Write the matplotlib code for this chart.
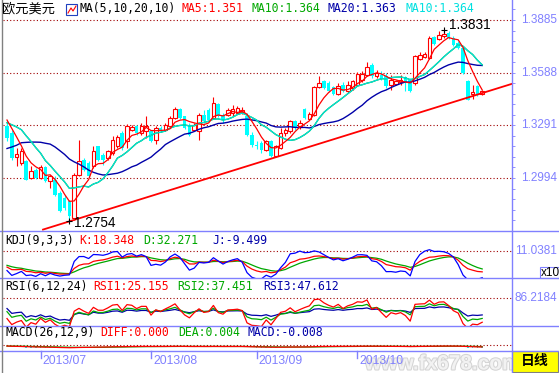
import matplotlib
matplotlib.use("Agg")
import matplotlib.pyplot as plt
import matplotlib.patheffects as pe
from matplotlib.patches import Rectangle
from matplotlib.lines import Line2D
from matplotlib.transforms import blended_transform_factory as blend
import numpy as np
import pandas as pd

W, H = 559, 373

# EUR/USD daily bars, 2013-06-20 .. 2013-11-06
opens = [1.3289, 1.3248, 1.3110, 1.3079, 1.3088, 1.2994, 1.3041, 1.2994, 1.3056, 1.2975,
         1.2985, 1.2909, 1.2881, 1.2862, 1.2768, 1.3013, 1.3097, 1.3079, 1.3060, 1.3173,
         1.3126, 1.3107, 1.3135, 1.3173, 1.3248, 1.3201, 1.3267, 1.3285, 1.3248, 1.3257,
         1.3257, 1.3210, 1.3276, 1.3267, 1.3285, 1.3332, 1.3383, 1.3342, 1.3295, 1.3267,
         1.3257, 1.3351, 1.3379, 1.3332, 1.3413, 1.3351, 1.3351, 1.3361, 1.3361, 1.3364,
         1.3346, 1.3238, 1.3182, 1.3191, 1.3154, 1.3201, 1.3116, 1.3163, 1.3248, 1.3257,
         1.3314, 1.3285, 1.3383, 1.3327, 1.3351, 1.3507, 1.3539, 1.3530, 1.3505, 1.3470,
         1.3520, 1.3483, 1.3502, 1.3520, 1.3545, 1.3577, 1.3633, 1.3567, 1.3577, 1.3567,
         1.3520, 1.3526, 1.3534, 1.3563, 1.3549, 1.3530, 1.3665, 1.3676, 1.3671, 1.3789,
         1.3778, 1.3793, 1.3812, 1.3784, 1.3755, 1.3727, 1.3540, 1.3470, 1.3511, 1.3470]
highs = [1.3323, 1.3267, 1.3163, 1.3163, 1.3097, 1.3060, 1.3050, 1.3069, 1.3064, 1.3013,
         1.3003, 1.2919, 1.2900, 1.2872, 1.3022, 1.3210, 1.3107, 1.3088, 1.3173, 1.3177,
         1.3135, 1.3154, 1.3229, 1.3238, 1.3257, 1.3300, 1.3295, 1.3295, 1.3304, 1.3342,
         1.3267, 1.3285, 1.3289, 1.3304, 1.3342, 1.3394, 1.3389, 1.3346, 1.3304, 1.3304,
         1.3361, 1.3379, 1.3389, 1.3451, 1.3417, 1.3361, 1.3389, 1.3408, 1.3398, 1.3394,
         1.3361, 1.3251, 1.3205, 1.3200, 1.3210, 1.3210, 1.3182, 1.3276, 1.3276, 1.3323,
         1.3323, 1.3323, 1.3389, 1.3365, 1.3515, 1.3571, 1.3549, 1.3539, 1.3511, 1.3530,
         1.3534, 1.3539, 1.3549, 1.3590, 1.3596, 1.3648, 1.3642, 1.3605, 1.3596, 1.3586,
         1.3577, 1.3549, 1.3577, 1.3571, 1.3558, 1.3690, 1.3703, 1.3703, 1.3793, 1.3797,
         1.3821, 1.3831, 1.3821, 1.3793, 1.3765, 1.3737, 1.3549, 1.3520, 1.3517, 1.3492]
lows = [1.3201, 1.3097, 1.3060, 1.3069, 1.2981, 1.2988, 1.2988, 1.2988, 1.2970, 1.2938,
        1.2891, 1.2800, 1.2816, 1.2754, 1.2759, 1.3003, 1.3032, 1.2999, 1.3050, 1.3088,
        1.3069, 1.3097, 1.3126, 1.3163, 1.3154, 1.3163, 1.3257, 1.3238, 1.3238, 1.3220,
        1.3195, 1.3188, 1.3251, 1.3257, 1.3276, 1.3327, 1.3327, 1.3270, 1.3232, 1.3257,
        1.3210, 1.3304, 1.3314, 1.3327, 1.3336, 1.3304, 1.3346, 1.3342, 1.3355, 1.3357,
        1.3232, 1.3170, 1.3160, 1.3135, 1.3145, 1.3112, 1.3110, 1.3158, 1.3232, 1.3248,
        1.3267, 1.3270, 1.3327, 1.3320, 1.3346, 1.3502, 1.3496, 1.3477, 1.3464, 1.3464,
        1.3477, 1.3473, 1.3492, 1.3515, 1.3534, 1.3571, 1.3558, 1.3558, 1.3545, 1.3502,
        1.3492, 1.3520, 1.3520, 1.3483, 1.3477, 1.3520, 1.3658, 1.3671, 1.3665, 1.3746,
        1.3770, 1.3784, 1.3778, 1.3737, 1.3721, 1.3582, 1.3432, 1.3440, 1.3459, 1.3464]
closes = [1.3220, 1.3107, 1.3130, 1.3144, 1.2985, 1.3032, 1.2994, 1.3056, 1.2975, 1.3003,
          1.2900, 1.2806, 1.2825, 1.2778, 1.3013, 1.3088, 1.3041, 1.3003, 1.3144, 1.3097,
          1.3097, 1.3144, 1.3210, 1.3225, 1.3163, 1.3289, 1.3282, 1.3248, 1.3289, 1.3289,
          1.3201, 1.3276, 1.3257, 1.3295, 1.3332, 1.3383, 1.3332, 1.3276, 1.3238, 1.3295,
          1.3351, 1.3314, 1.3323, 1.3417, 1.3342, 1.3323, 1.3379, 1.3383, 1.3389, 1.3379,
          1.3238, 1.3182, 1.3173, 1.3154, 1.3201, 1.3116, 1.3173, 1.3248, 1.3263, 1.3314,
          1.3276, 1.3304, 1.3332, 1.3357, 1.3507, 1.3530, 1.3502, 1.3483, 1.3470, 1.3511,
          1.3483, 1.3518, 1.3539, 1.3582, 1.3580, 1.3620, 1.3567, 1.3586, 1.3552, 1.3511,
          1.3549, 1.3539, 1.3549, 1.3530, 1.3483, 1.3680, 1.3689, 1.3693, 1.3784, 1.3752,
          1.3802, 1.3808, 1.3784, 1.3746, 1.3727, 1.3586, 1.3436, 1.3480, 1.3464, 1.3487]
# closes before the visible window, only used to warm up the averages
prior_close = [1.2935, 1.2935, 1.2860, 1.2945, 1.3000, 1.2995, 1.3075, 1.3085, 1.3100, 1.3220,
               1.3220, 1.3255, 1.3300, 1.3330, 1.3345, 1.3345, 1.3370, 1.3395, 1.3275]

month_labels = ["2013/07", "2013/08", "2013/09", "2013/10"]
month_start = [7, 30, 52, 73]
price_levels = [1.3885, 1.3588, 1.3291, 1.2994]
kdj_top = 11.0381
rsi_top = 86.2184
high_mark = (91, 1.3831)
low_mark = (13, 1.2754)
trend_x = [7.5, 105.2]
trend_y = [1.2703, 1.3525]

AXIS = '#8080ff'
LABEL = '#8080ff'
GRID = '#a00000'
RED = '#ff0000'
CYAN = '#00ffff'
GREEN = '#00a800'
NAVY = '#0000a8'


def sma_cn(x, n, start=None):
    out = np.empty(len(x))
    prev = x[0] if start is None else start
    for i, v in enumerate(x):
        prev = (v + (n - 1) * prev) / n
        out[i] = prev
    return out


o, h, l, c = map(np.array, (opens, highs, lows, closes))
x = np.arange(len(c))
n0 = len(prior_close)
call = pd.Series(prior_close + closes)
ma5 = call.rolling(5).mean().values[n0:]
ma10 = call.rolling(10).mean().values[n0:]
ma20 = call.rolling(20).mean().values[n0:]

hh = pd.Series(h).rolling(9, min_periods=1).max().values
ll = pd.Series(l).rolling(9, min_periods=1).min().values
rsv = (c - ll) / (hh - ll) * 100
k_line = sma_cn(rsv, 3, 50)
d_line = sma_cn(k_line, 3, 50)
j_line = 3 * k_line - 2 * d_line

chg = call.diff().fillna(0).values
rsis = []
for n in (6, 12, 24):
    up_s = sma_cn(np.maximum(chg, 0), n)
    ab_s = sma_cn(np.abs(chg), n)
    with np.errstate(invalid='ignore', divide='ignore'):
        rsis.append((up_s / ab_s * 100)[n0:])

dif = call.ewm(span=12, adjust=False).mean() - call.ewm(span=26, adjust=False).mean()
dea = dif.ewm(span=9, adjust=False).mean()
dif, dea = dif.values[n0:], dea.values[n0:]
macd = 2 * (dif - dea)

fig = plt.figure(figsize=(W / 100, H / 100), dpi=100)
fig.patch.set_facecolor('white')


def px_axes(x0, y0, x1, y1):
    a = fig.add_axes([x0 / W, 1 - y1 / H, (x1 - x0) / W, (y1 - y0) / H])
    a.set_xlim((3 - 7) / 4.8, (512 - 7) / 4.8)
    for s in a.spines.values():
        s.set_visible(False)
    a.set_xticks([])
    a.set_yticks([])
    a.patch.set_alpha(0)
    return a


def fig_line(xs, ys, color=AXIS, lw=1.0):
    fig.add_artist(Line2D([v / W for v in xs], [1 - v / H for v in ys], color=color, lw=lw))


def fig_text(px, py, s, color='black', size=8.3, family=None, **kw):
    fig.text(px / W, 1 - py / H, s, color=color, fontsize=size, va='center',
             family=family or ['DejaVu Sans Mono', 'Noto Sans CJK SC'], **kw)


def right_label(ax, y, s):
    ax.text(557 / W, y, s, transform=blend(fig.transFigure, ax.transData), ha='right',
            va='center', color=LABEL, fontsize=8.5, family='Liberation Sans', clip_on=False)


# ---- main price panel
ax = px_axes(3, 0, 512, 231)
ax.set_ylim(1.26950, 1.39978)
for lv in price_levels:
    ax.axhline(lv, color=GRID, lw=0.8, ls=(0, (1, 2)))
    right_label(ax, lv, f"{lv:.4f}")
up = c >= o
blo = np.minimum(o, c)
bh = np.maximum(np.abs(c - o), 0.00012)
ax.vlines(x[up], l[up], h[up], color=RED, lw=0.8, zorder=3)
ax.vlines(x[~up], l[~up], h[~up], color=CYAN, lw=0.8, zorder=3)
ax.bar(x[up], bh[up], bottom=blo[up], width=0.72, facecolor='white', edgecolor=RED, lw=0.8, zorder=4)
ax.bar(x[~up], bh[~up], bottom=blo[~up], width=0.72, color=CYAN, lw=0, zorder=4)
ax.plot(x, ma20, color=NAVY, lw=1.0, zorder=5)
ax.plot(x, ma10, color=GREEN, lw=0.9, zorder=5)
ax.plot(x, ma10, color='#00e0e0', lw=0.9, zorder=5)
ax.plot(x, ma5, color=RED, lw=0.9, zorder=6)
ax.plot(trend_x, trend_y, color=RED, lw=1.3, zorder=6)
for (mx, my), dy in ((high_mark, 3), (low_mark, -2)):
    ax.plot(mx, my, marker='+', color='black', ms=5, mew=0.8, zorder=7)
    ax.annotate(f"{my:.4f}", (mx, my), xytext=(3.5, dy), textcoords='offset points',
                fontsize=9.8, family='Liberation Sans', va='center', zorder=7)
ax.yaxis.tick_right()
ax.set_yticks(np.arange(1.2697, 1.3995, 0.00594), minor=True)
ax.tick_params(axis='y', which='both', length=2.5, color=AXIS, labelright=False)

fig_text(2, 9, "欧元美元", size=9.5, family='Noto Sans CJK SC')
fig.add_artist(Rectangle((66 / W, 1 - 15 / H), 11 / W, 11 / H, facecolor='white', edgecolor='#2040c0', lw=0.8))
fig.add_artist(Line2D([68 / W, 71 / W, 73 / W, 76 / W], [1 - 13 / H, 1 - 8 / H, 1 - 11 / H, 1 - 6 / H], color=RED, lw=0.8))
fig_text(79, 9, "MA(5,10,20,10)")
fig_text(181, 9, "MA5:1.351", color=RED)
fig_text(252, 9, "MA10:1.364", color=GREEN)
fig_text(328, 9, "MA20:1.363", color=NAVY)
fig_text(405, 9, "MA10:1.364", color='#00e0e0')

# ---- KDJ
ak = px_axes(3, 248, 512, 278)
ak.set_ylim(110.381 - 30 * 4, 110.381 + 3 * 4)
ak.axhline(kdj_top * 10, color=GRID, lw=0.8, ls=(0, (1, 2)))
ak.plot(x, d_line, color=GREEN, lw=0.9)
ak.plot(x, k_line, color=RED, lw=0.9)
ak.plot(x, j_line, color='#0000ff', lw=0.9)
right_label(ak, kdj_top * 10, f"{kdj_top:.4f}")
fig_text(5, 241, "KDJ(9,3,3)")
fig_text(79, 241, "K:18.348", color=RED)
fig_text(143, 241, "D:32.271", color=GREEN)
fig_text(212, 241, "J:-9.499", color=NAVY)
fig.add_artist(Rectangle((540 / W, 1 - 278 / H), 19 / W, 11 / H, facecolor='white', edgecolor=AXIS, lw=0.8))
fig_text(541, 272.5, "x10", size=8.5, family='Liberation Sans')

# ---- RSI
ar = px_axes(3, 296, 512, 326)
ar.set_ylim(rsi_top - 28 * 2.24, rsi_top + 2 * 2.24)
ar.axhline(rsi_top, color=GRID, lw=0.8, ls=(0, (1, 2)))
ar.plot(x, rsis[2], color=NAVY, lw=0.9)
ar.plot(x, rsis[1], color=GREEN, lw=0.9)
ar.plot(x, rsis[0], color=RED, lw=0.9)
right_label(ar, rsi_top, f"{rsi_top:.4f}")
fig_text(5, 287, "RSI(6,12,24)")
fig_text(93, 287, "RSI1:25.155", color=RED)
fig_text(177, 287, "RSI2:37.451", color=GREEN)
fig_text(263, 287, "RSI3:47.612", color=NAVY)

# ---- MACD
am = px_axes(3, 343, 512, 351)
am.set_ylim(-0.04, 0.04)
am.axhline(0.02, color=GRID, lw=0.8, ls=(0, (1, 2)))
am.bar(x, macd, width=0.3, color=np.where(macd >= 0, RED, CYAN), zorder=2)
am.plot(x, dea, color=GREEN, lw=0.9)
am.plot(x, dif, color=RED, lw=0.9)
fig_text(5, 333, "MACD(26,12,9)")
fig_text(100, 333, "DIFF:0.000", color=RED)
fig_text(178, 333, "DEA:0.004", color=GREEN)
fig_text(247, 333, "MACD:-0.008", color=NAVY)

# ---- date axis (watermark sits behind the labels, as in the source)
fig.text(365 / W, 1 - 364 / H, "www.fx678.com", fontsize=15, weight='bold', color='#f2f2f2',
         family='Liberation Sans', va='center', zorder=0.5,
         path_effects=[pe.withStroke(linewidth=1.5, foreground='#d4d4d4')])
for lab, idx in zip(month_labels, month_start):
    px = 7 + 4.8 * idx
    fig_line([px, px], [351, 358])
    fig_text(px + 2, 361, lab, color=LABEL, size=8.8, family='Liberation Sans')

# frame and separators
for yy in (231, 278, 326, 351):
    fig_line([0, 559], [yy, yy])
fig_line([512, 512], [0, 373])
fig_line([2, 2], [0, 373], color='#808080')
fig.add_artist(Rectangle((512 / W, 1 - 372 / H), 46 / W, 21 / H, facecolor='#ffff00', edgecolor='#808080', lw=0.8))
fig.text(535 / W, 1 - 361.5 / H, "日线", fontsize=10, weight='bold', family='Noto Sans CJK SC',
         ha='center', va='center')

fig.savefig("out.png", dpi=100)
